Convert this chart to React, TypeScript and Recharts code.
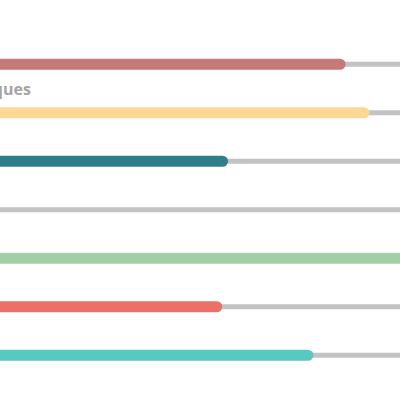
import React from "react";
import { BarChart, Bar, XAxis, YAxis, Cell, LabelList } from "recharts";

const categories = ["Design", "Techniques", "Code", "Tests", "Docs", "Outils", "Projet"];
const values = [84.5, 89.5, 60, 0, 100, 58.8, 77.8];
const trackValues = [100, 100, 100, 100, 100, 100, 100];
const barColors = ["#c87878", "#fcd894", "#2e7f89", "#c1c1c1", "#a3cfa7", "#ec6f68", "#57c9c0"];

const data = categories.map((name, i) => ({ name, value: values[i], track: trackValues[i] }));

const RowLabel = (props: any) => {
  const { x, y, value, index } = props;
  // only the long label reaches into view
  if (index !== 1) return null;
  return (
    <text
      x={x}
      y={y - 12}
      fill="#a4a4a4"
      fontSize={16}
      fontWeight={700}
      fontFamily="'Open Sans', sans-serif"
      textAnchor="start"
    >
      {value}
    </text>
  );
};

const App = () => {
  return (
    <div
      style={{
        position: "fixed",
        left: 0,
        top: 0,
        width: 400,
        height: 400,
        overflow: "hidden",
        background: "#fff",
      }}
    >
      <div style={{ position: "absolute", left: -100, top: 0 }}>
        <BarChart
          width={520}
          height={400}
          data={data}
          layout="vertical"
          margin={{ top: 39.75, right: 0, left: 40, bottom: 20.75 }}
        >
          <XAxis type="number" domain={[0, 100]} hide />
          <YAxis yAxisId="track" type="category" dataKey="name" hide width={0} />
          <YAxis yAxisId="value" type="category" dataKey="name" hide width={0} />
          <Bar
            yAxisId="track"
            dataKey="track"
            barSize={5}
            fill="#c3c3c3"
            isAnimationActive={false}
          />
          <Bar
            yAxisId="value"
            dataKey="value"
            barSize={11}
            radius={[0, 6, 6, 0]}
            isAnimationActive={false}
          >
            {data.map((d, i) => (
              <Cell key={d.name} fill={barColors[i]} />
            ))}
            <LabelList dataKey="name" content={<RowLabel />} />
          </Bar>
        </BarChart>
      </div>
    </div>
  );
};

export default App;
